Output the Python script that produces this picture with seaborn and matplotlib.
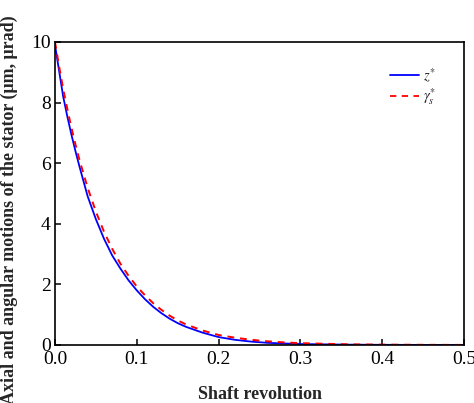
import matplotlib
matplotlib.use("Agg")
import matplotlib.pyplot as plt
import seaborn as sns
import pandas as pd

# shaft revolution samples
rev = [0.0, 0.005, 0.01, 0.015, 0.02, 0.025, 0.03, 0.04, 0.05, 0.06, 0.07, 0.08,
       0.09, 0.10, 0.11, 0.12, 0.13, 0.14, 0.15, 0.16, 0.18, 0.20, 0.22, 0.24,
       0.26, 0.28, 0.30, 0.33, 0.36, 0.40, 0.45, 0.50]

# axial motion z* (um)
z_star = [9.90, 9.05, 8.20, 7.55, 6.95, 6.40, 5.88, 4.90, 4.15, 3.50, 2.95, 2.52,
          2.13, 1.80, 1.51, 1.26, 1.05, 0.87, 0.72, 0.60, 0.41, 0.26, 0.17, 0.11,
          0.07, 0.05, 0.03, 0.02, 0.01, 0.005, 0.002, 0.001]

# angular motion gamma_s* (urad)
gamma_star = [10.00, 9.20, 8.45, 7.80, 7.18, 6.62, 6.10, 5.18, 4.40, 3.73, 3.17, 2.68,
              2.28, 1.93, 1.64, 1.38, 1.16, 0.97, 0.81, 0.68, 0.48, 0.33, 0.24, 0.17,
              0.12, 0.085, 0.06, 0.04, 0.02, 0.01, 0.005, 0.002]

df = pd.DataFrame({"rev": rev, "z": z_star, "gamma": gamma_star})

sns.set_style("ticks")
plt.rcParams["font.family"] = ["Liberation Serif", "DejaVu Serif"]
plt.rcParams["mathtext.fontset"] = "stix"

fig = plt.figure(figsize=(4.74, 4.03), dpi=100)
ax = fig.add_axes([0.116, 0.144, 0.863, 0.752])

sns.lineplot(data=df, x="rev", y="z", ax=ax, color="#0000FF", lw=1.3,
             label=r"$z^{*}$")
sns.lineplot(data=df, x="rev", y="gamma", ax=ax, color="#FF0000", lw=1.4,
             label=r"$\gamma_{s}^{*}$")
ax.lines[1].set_dashes((3.5, 3))

ax.set_xlim(0, 0.5)
ax.set_ylim(0, 10)
ax.set_xticks([0.0, 0.1, 0.2, 0.3, 0.4, 0.5])
ax.set_xticklabels(["0.0", "0.1", "0.2", "0.3", "0.4", "0.5"])
ax.set_yticks([0, 2, 4, 6, 8, 10])
ax.tick_params(direction="in", length=4, width=1.1, labelsize=14,
               colors="black")
ax.tick_params(axis="x", pad=4.5)
ax.tick_params(axis="y", pad=3)
for s in ax.spines.values():
    s.set_visible(True)
    s.set_linewidth(1.2)
    s.set_color("black")

ax.set_xlabel("Shaft revolution", fontsize=13, fontweight="bold")
ax.set_ylabel("Axial and angular motions of the stator (\u03bcm, \u03bcrad)",
              fontsize=13, fontweight="bold")
ax.xaxis.set_label_coords(0.5, -0.135)
ax.yaxis.set_label_coords(-0.09, 0.445)

leg = ax.legend(loc="upper right", bbox_to_anchor=(0.965, 0.965), frameon=False,
                fontsize=10.5, handlelength=2.0, handletextpad=0.3,
                labelspacing=0.2)
for h in leg.get_lines():
    h.set_linewidth(1.3)

fig.savefig("out.png", dpi=100)
